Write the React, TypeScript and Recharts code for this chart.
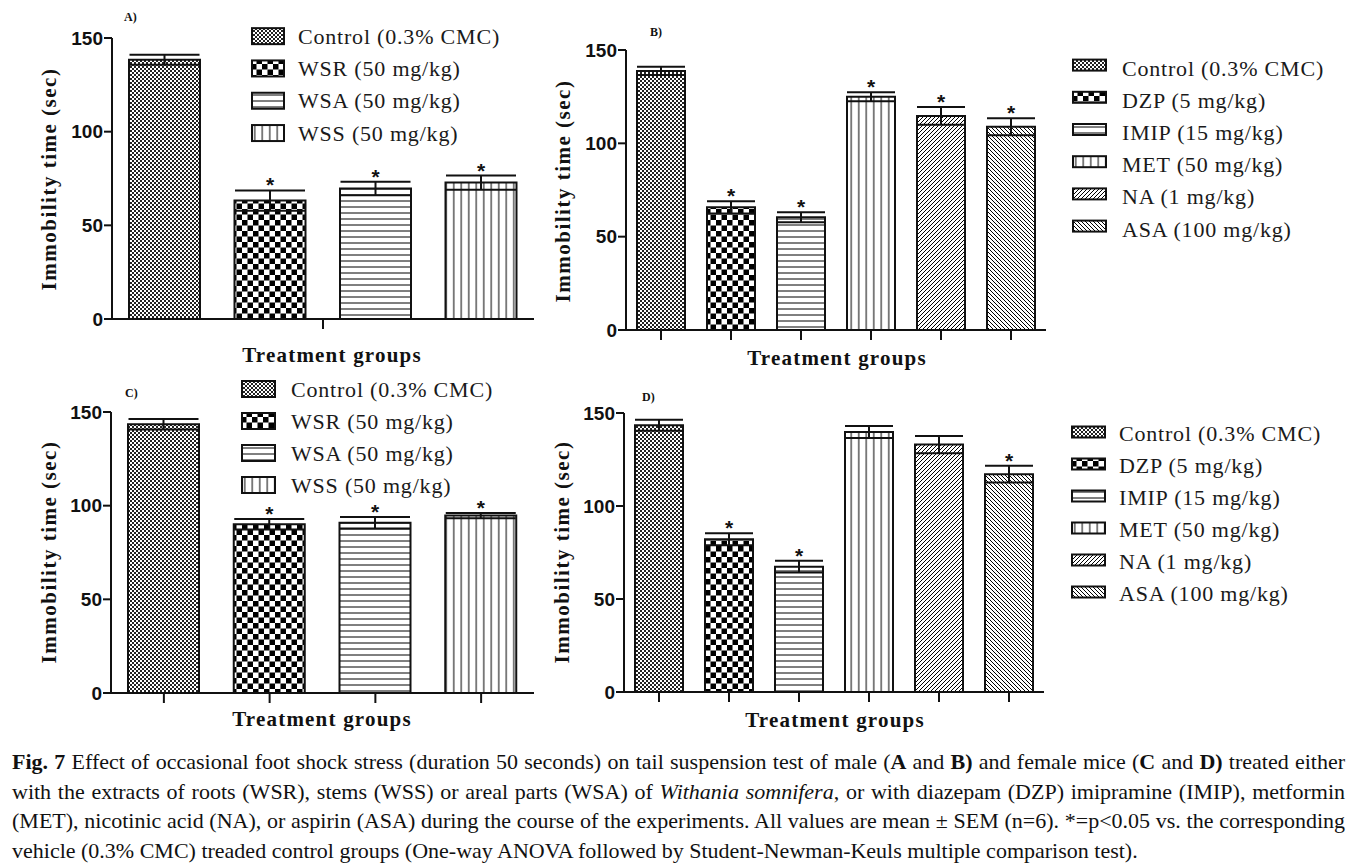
import React from 'react'
import { BarChart, Bar, XAxis, YAxis, ErrorBar, Cell, LabelList } from 'recharts'

// group names
const extractGroups = ['Control (0.3% CMC)', 'WSR (50 mg/kg)', 'WSA (50 mg/kg)', 'WSS (50 mg/kg)']
const drugGroups = ['Control (0.3% CMC)', 'DZP (5 mg/kg)', 'IMIP (15 mg/kg)', 'MET (50 mg/kg)', 'NA (1 mg/kg)', 'ASA (100 mg/kg)']
const yTicks = [0, 50, 100, 150]

// A) male, extracts
const meanA = [138.4, 63.2, 69.6, 72.8]
const semA = [2.7, 5.4, 3.6, 3.8]
const sigA = [false, true, true, true]

// B) male, reference drugs
const meanB = [138.8, 65.7, 60.4, 125, 114.7, 108.9]
const semB = [2.2, 3.3, 2.7, 2.4, 4.7, 4.6]
const sigB = [false, true, true, true, true, true]

// C) female, extracts
const meanC = [143.5, 90.1, 90.9, 94.7]
const semC = [2.8, 2.8, 3.1, 1.4]
const sigC = [false, true, true, true]

// D) female, reference drugs
const meanD = [143.4, 82.1, 67.4, 139.8, 133, 117.1]
const semD = [3, 3.2, 3.2, 3.2, 4.7, 4.5]
const sigD = [false, true, true, false, false, true]

const INK = '#111'
const SERIF = "'Liberation Serif', 'Times New Roman', serif"
const SANS = "'Liberation Sans', Arial, sans-serif"

function Patterns({ id }: { id: string }) {
  return (
    <defs>
      <pattern id={`${id}-0`} width={4} height={4} patternUnits="userSpaceOnUse">
        <rect width={4} height={4} fill="#fff" />
        <rect width={2} height={2} fill="#222" />
        <rect x={2} y={2} width={2} height={2} fill="#222" />
      </pattern>
      <pattern id={`${id}-1`} width={11} height={11} patternUnits="userSpaceOnUse">
        <rect width={11} height={11} fill="#fff" />
        <rect width={5.5} height={5.5} fill="#000" />
        <rect x={5.5} y={5.5} width={5.5} height={5.5} fill="#000" />
      </pattern>
      <pattern id={`${id}-2`} width={6} height={6} patternUnits="userSpaceOnUse">
        <rect width={6} height={6} fill="#fff" />
        <line x1={0} y1={3} x2={6} y2={3} stroke="#000" strokeWidth={1} />
      </pattern>
      <pattern id={`${id}-3`} width={7.5} height={7.5} patternUnits="userSpaceOnUse">
        <rect width={7.5} height={7.5} fill="#fff" />
        <line x1={3.75} y1={0} x2={3.75} y2={7.5} stroke="#000" strokeWidth={1} />
      </pattern>
      <pattern id={`${id}-4`} width={4} height={4} patternUnits="userSpaceOnUse">
        <rect width={4} height={4} fill="#fff" />
        <path d="M0,4 L4,0 M-1,1 L1,-1 M3,5 L5,3" stroke="#000" strokeWidth={1} />
      </pattern>
      <pattern id={`${id}-5`} width={4} height={4} patternUnits="userSpaceOnUse">
        <rect width={4} height={4} fill="#fff" />
        <path d="M0,0 L4,4 M-1,3 L1,5 M3,-1 L5,1" stroke="#000" strokeWidth={1} />
      </pattern>
    </defs>
  )
}

type Row = { name: string; slot: number; mean: number; err: number; sig: boolean }

const starLabel = (rows: Row[]) => (props: any) => {
  const vb = props.x === undefined ? props.viewBox : props
  const row = rows[props.index]
  if (!vb || !row || !row.sig) return null
  const x = Number(vb.x), y = Number(vb.y), w = Number(vb.width), h = Number(vb.height)
  const capY = y - row.err * (h / row.mean)
  return (
    <text x={x + w / 2} y={capY + 2} textAnchor="middle" fontFamily={SANS} fontWeight={700} fontSize={21} fill={INK}>
      *
    </text>
  )
}

// x ticks carry no labels, only the tick marks
const NoLabel = () => <g />

type PanelProps = {
  id: string
  left: number
  top: number
  width: number
  height: number
  marginTop: number
  marginRight: number
  yAxisWidth: number
  xAxisHeight: number
  names: string[]
  means: number[]
  sems: number[]
  sig: boolean[]
  barSize: number
  capWidth: number
  midTick?: boolean
}

function Panel(p: PanelProps) {
  const rows: Row[] = p.names.map((name, i) => ({ name, slot: i, mean: p.means[i], err: p.sems[i], sig: p.sig[i] }))
  const n = rows.length
  const line = { stroke: INK, strokeWidth: 2 }
  return (
    <div style={{ position: 'absolute', left: p.left, top: p.top }}>
      <BarChart
        width={p.width}
        height={p.height}
        data={rows}
        margin={{ top: p.marginTop, right: p.marginRight, left: 0, bottom: 0 }}
      >
        <Patterns id={p.id} />
        <XAxis
          xAxisId="cat"
          dataKey="name"
          hide={!!p.midTick}
          interval={0}
          tick={NoLabel}
          tickSize={10}
          axisLine={line}
          tickLine={line}
          height={p.midTick ? 0 : p.xAxisHeight}
        />
        {p.midTick && (
          // single centred tick, as in the original panel A
          <XAxis
            xAxisId="mid"
            type="number"
            dataKey="slot"
            domain={[-0.5, n - 0.5]}
            ticks={[(n - 1) / 2]}
            allowDataOverflow
            tick={NoLabel}
            tickSize={10}
            axisLine={line}
            tickLine={line}
            height={p.xAxisHeight}
          />
        )}
        <YAxis
          domain={[0, 150]}
          ticks={yTicks}
          width={p.yAxisWidth}
          tickSize={8}
          tickMargin={1}
          axisLine={line}
          tickLine={line}
          tick={{ fontFamily: SANS, fontWeight: 700, fontSize: 19, fill: INK }}
        />
        <Bar xAxisId="cat" dataKey="mean" barSize={p.barSize} stroke={INK} strokeWidth={2} isAnimationActive={false}>
          {rows.map((r, i) => (
            <Cell key={r.name} fill={`url(#${p.id}-${i})`} />
          ))}
          <ErrorBar dataKey="err" width={p.capWidth} stroke={INK} strokeWidth={2} />
          <LabelList dataKey="mean" content={starLabel(rows)} />
        </Bar>
      </BarChart>
    </div>
  )
}

type LegendProps = {
  id: string
  names: string[]
  left: number
  top: number
  rowH: number
  boxW: number
  boxH: number
  boxDy: number
  textDx: number
}

function GroupLegend(l: LegendProps) {
  const h = l.names.length * l.rowH
  return (
    <svg style={{ position: 'absolute', left: l.left, top: l.top }} width={300} height={h}>
      <Patterns id={l.id} />
      {l.names.map((n, i) => {
        const cy = l.rowH * i + l.rowH / 2
        return (
          <g key={n}>
            <rect
              x={1}
              y={cy - l.boxH / 2 - l.boxDy}
              width={l.boxW}
              height={l.boxH}
              fill={`url(#${l.id}-${i})`}
              stroke={INK}
              strokeWidth={2}
            />
            <text
              x={l.textDx}
              y={cy}
              dominantBaseline="central"
              fontFamily={SERIF}
              fontSize={22}
              letterSpacing={0.8}
              fill="#1a1a1a"
            >
              {n}
            </text>
          </g>
        )
      })}
    </svg>
  )
}

const yTitle = (cx: number, cy: number) => (
  <div
    style={{
      position: 'absolute',
      left: cx,
      top: cy,
      transform: 'translate(-50%, -50%) rotate(-90deg)',
      whiteSpace: 'nowrap',
      fontFamily: SERIF,
      fontWeight: 700,
      fontSize: 21,
      letterSpacing: 1.5,
      color: INK,
    }}
  >
    Immobility time (sec)
  </div>
)

const xTitle = (cx: number, cy: number) => (
  <div
    style={{
      position: 'absolute',
      left: cx,
      top: cy,
      transform: 'translate(-50%, -50%)',
      whiteSpace: 'nowrap',
      fontFamily: SERIF,
      fontWeight: 700,
      fontSize: 21,
      letterSpacing: 1.2,
      color: INK,
    }}
  >
    Treatment groups
  </div>
)

const tag = (text: string, x: number, cy: number) => (
  <div
    style={{
      position: 'absolute',
      left: x,
      top: cy,
      transform: 'translateY(-50%)',
      fontFamily: SERIF,
      fontWeight: 700,
      fontSize: 12,
      color: INK,
    }}
  >
    {text}
  </div>
)

const captionLine = (last: boolean): React.CSSProperties => ({
  textAlign: last ? 'left' : 'justify',
  textAlignLast: last ? 'left' : 'justify',
  whiteSpace: 'nowrap',
  height: 29.5,
})

export default function App() {
  return (
    <div style={{ position: 'fixed', left: 0, top: 0, width: 1369, height: 864, background: '#fff', overflow: 'hidden' }}>
      <Panel
        id="pa"
        left={0}
        top={0}
        width={540}
        height={372}
        marginTop={38}
        marginRight={6}
        yAxisWidth={112}
        xAxisHeight={53}
        names={extractGroups}
        means={meanA}
        sems={semA}
        sig={sigA}
        barSize={71}
        capWidth={35}
        midTick
      />
      <Panel
        id="pb"
        left={540}
        top={0}
        width={520}
        height={372}
        marginTop={50}
        marginRight={14}
        yAxisWidth={86}
        xAxisHeight={42}
        names={drugGroups}
        means={meanB}
        sems={semB}
        sig={sigB}
        barSize={48}
        capWidth={24}
      />
      <Panel
        id="pc"
        left={0}
        top={370}
        width={540}
        height={372}
        marginTop={42}
        marginRight={6}
        yAxisWidth={111}
        xAxisHeight={49}
        names={extractGroups}
        means={meanC}
        sems={semC}
        sig={sigC}
        barSize={71}
        capWidth={35}
      />
      <Panel
        id="pd"
        left={540}
        top={370}
        width={520}
        height={372}
        marginTop={43}
        marginRight={16}
        yAxisWidth={84}
        xAxisHeight={50}
        names={drugGroups}
        means={meanD}
        sems={semD}
        sig={sigD}
        barSize={48}
        capWidth={24}
      />

      <GroupLegend id="la" names={extractGroups} left={251} top={20} rowH={32.3} boxW={32} boxH={16} boxDy={0} textDx={47} />
      <GroupLegend id="lb" names={drugGroups} left={1072} top={52} rowH={32.2} boxW={33} boxH={11} boxDy={3} textDx={50} />
      <GroupLegend id="lc" names={extractGroups} left={241} top={373} rowH={32} boxW={33} boxH={16} boxDy={0} textDx={50} />
      <GroupLegend id="ld" names={drugGroups} left={1071} top={416.5} rowH={32} boxW={33} boxH={11} boxDy={1} textDx={48} />

      {tag('A)', 124, 17)}
      {tag('B)', 650, 32)}
      {tag('C)', 125, 393)}
      {tag('D)', 642, 397)}

      {yTitle(49, 179)}
      {yTitle(563, 191)}
      {yTitle(49, 552)}
      {yTitle(562, 552)}

      {xTitle(332, 355)}
      {xTitle(837, 358)}
      {xTitle(322, 719)}
      {xTitle(835, 720)}

      <div
        style={{
          position: 'absolute',
          left: 12,
          top: 747,
          width: 1333,
          fontFamily: SERIF,
          fontSize: 22,
          lineHeight: '29.5px',
          color: INK,
        }}
      >
        <div style={captionLine(false)}>
          <b>Fig. 7</b> Effect of occasional foot shock stress (duration 50 seconds) on tail suspension test of male (<b>A</b> and <b>B)</b> and female mice (<b>C</b> and <b>D)</b> treated either
        </div>
        <div style={captionLine(false)}>
          with the extracts of roots (WSR), stems (WSS) or areal parts (WSA) of <i>Withania somnifera</i>, or with diazepam (DZP) imipramine (IMIP), metformin
        </div>
        <div style={captionLine(false)}>
          (MET), nicotinic acid (NA), or aspirin (ASA) during the course of the experiments. All values are mean ± SEM (n=6). *=p&lt;0.05 vs. the corresponding
        </div>
        <div style={captionLine(true)}>
          vehicle (0.3% CMC) treaded control groups (One-way ANOVA followed by Student-Newman-Keuls multiple comparison test).
        </div>
      </div>
    </div>
  )
}
